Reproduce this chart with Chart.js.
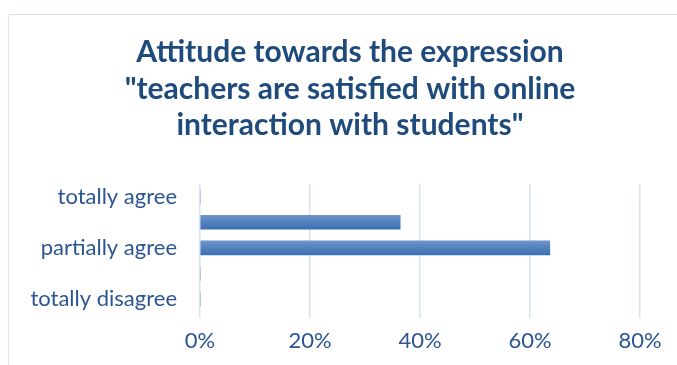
<!DOCTYPE html>
<html>
<head>
<meta charset="utf-8">
<script src="https://cdn.jsdelivr.net/npm/chart.js@4"></script>
<style>
  html, body { margin: 0; padding: 0; background: #fff; overflow: hidden; }
  #frame {
    position: absolute; left: 8px; top: 14px; width: 720px; height: 400px;
    border: 1.5px solid #dae3f3; box-sizing: border-box;
  }
  #wrap { position: absolute; left: 0; top: 0; width: 677px; height: 365px; }
</style>
</head>
<body>
<div id="frame"></div>
<div id="wrap"><canvas id="attitudeChart" width="677" height="365"></canvas></div>
<script>
// answers, top to bottom; only every other row carries a label
var answers = ["totally agree", "", "partially agree", "", "totally disagree"];
var shares = [0, 36.4, 63.6, 0, 0];
var percentTicks = [0, 20, 40, 60, 80];

var TITLE = [
  "Attitude towards the expression",
  "\"teachers are satisfied with online",
  "interaction with students\""
];

var FONT = "Lato, 'Noto Sans', sans-serif";
var BAR_THICKNESS = 14;

// vertical gradient per bar, lighter on top
function barFill(context) {
  var chart = context.chart;
  var yScale = chart.scales.y;
  if (!chart.chartArea || !yScale) {
    return "#4f7fc0";
  }
  var mid = yScale.getPixelForValue(context.dataIndex);
  var g = chart.ctx.createLinearGradient(0, mid - BAR_THICKNESS / 2, 0, mid + BAR_THICKNESS / 2);
  g.addColorStop(0, "#6d94ca");
  g.addColorStop(1, "#3a6fb3");
  return g;
}

new Chart(document.getElementById("attitudeChart"), {
  type: "bar",
  data: {
    labels: answers,
    datasets: [{
      data: shares,
      backgroundColor: barFill,
      borderWidth: 0,
      barThickness: BAR_THICKNESS
    }]
  },
  options: {
    indexAxis: "y",
    responsive: false,
    animation: false,
    layout: { padding: { left: 23, right: 0, top: 0, bottom: 0 } },
    plugins: {
      legend: { display: false },
      tooltip: { enabled: false },
      title: {
        display: true,
        text: TITLE,
        color: "#1f4a7c",
        font: { family: FONT, size: 30, weight: "bold", lineHeight: 1.22 },
        padding: { top: 34, bottom: 40 }
      }
    },
    scales: {
      x: {
        min: 0,
        max: 80,
        afterBuildTicks: function (scale) {
          scale.ticks = percentTicks.map(function (v) { return { value: v }; });
        },
        afterFit: function (scale) {
          scale.paddingRight = 37;
          scale.height = 53;
        },
        grid: {
          color: "#d9e2f3",
          lineWidth: 1.5,
          drawTicks: true,
          tickLength: 6,
          tickColor: "#d9e2f3"
        },
        border: { display: false },
        ticks: {
          color: "#2c5592",
          font: { family: FONT, size: 22 },
          padding: 10,
          callback: function (v) { return v + "%"; }
        }
      },
      y: {
        afterFit: function (scale) {
          scale.width = 177;
        },
        grid: { display: false, drawTicks: false },
        border: { display: false },
        ticks: {
          autoSkip: false,
          color: "#2c5592",
          font: { family: FONT, size: 22 },
          padding: 23
        }
      }
    }
  }
});
</script>
</body>
</html>
